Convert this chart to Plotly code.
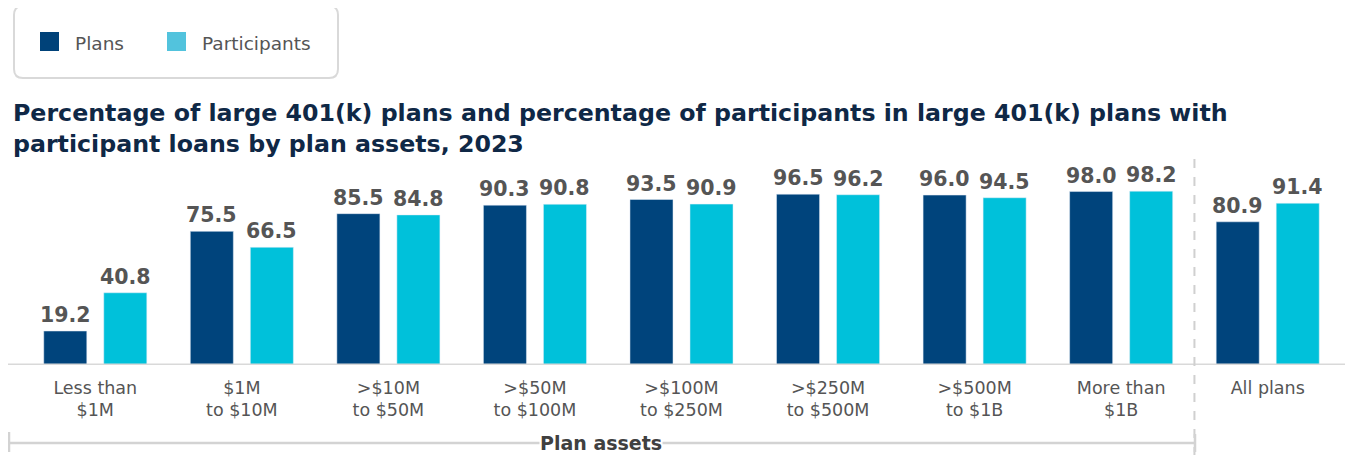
import plotly.graph_objects as go

categories = ["Less than<br>$1M", "$1M<br>to $10M", ">$10M<br>to $50M", ">$50M<br>to $100M",
              ">$100M<br>to $250M", ">$250M<br>to $500M", ">$500M<br>to $1B", "More than<br>$1B", "All plans"]
plans = [19.2, 75.5, 85.5, 90.3, 93.5, 96.5, 96.0, 98.0, 80.9]
participants = [40.8, 66.5, 84.8, 90.8, 90.9, 96.2, 94.5, 98.2, 91.4]

# page has an 8px body margin: the figure starts at page (8, 8)
OFF = 8
W, H = 1353 - OFF, 455 - OFF
# plot area in page pixels: x 22..1341, y 188..365
PL, PR, PT, PB = 22, 1341, 188, 365
L, T = PL - OFF, PT - OFF
R, B = (1353 - PR), (455 - PB)
PW, PH = PR - PL, PB - PT

def px(x):
    return (x - PL) / PW

def py(y):
    return (PB - y) / PH

FONT = "DejaVu Sans"
NAVY = "#00447c"
CYAN = "#00c1da"
GRAY = "#555555"
BARGAP = 0.181
BARGROUPGAP = 0.283
HALF_SLOT = (1 - BARGAP) / 4

fig = go.Figure()
xs = list(range(len(categories)))
fig.add_trace(go.Bar(x=xs, y=plans, name="Plans", marker_color=NAVY))
fig.add_trace(go.Bar(x=xs, y=participants, name="Participants", marker_color=CYAN))

shapes = []
# baseline
shapes.append(dict(type="line", xref="paper", yref="y", x0=px(8), x1=px(1353), y0=0, y1=0,
                   line=dict(color="#d9d9d9", width=3), layer="above"))
# dashed separator
shapes.append(dict(type="line", xref="x", yref="paper", x0=7.5, x1=7.5, y0=py(456), y1=py(159),
                   line=dict(color="#d0d0d0", width=2, dash="dash")))
# bracket
shapes.append(dict(type="line", xref="paper", yref="paper", x0=px(9), x1=px(1195), y0=py(443), y1=py(443),
                   line=dict(color="#d3d3d3", width=2.5)))
shapes.append(dict(type="line", xref="paper", yref="paper", x0=px(9), x1=px(9), y0=py(432), y1=py(452),
                   line=dict(color="#d3d3d3", width=2.5)))
shapes.append(dict(type="line", xref="paper", yref="paper", x0=px(1195), x1=px(1195), y0=py(434), y1=py(452),
                   line=dict(color="#d3d3d3", width=2.5)))
# legend box (rounded)
x0, y0, x1, y1, r = 14, 6, 338, 78, 9
path = (f"M {px(x0+r)},{py(y0)} L {px(x1-r)},{py(y0)} Q {px(x1)},{py(y0)} {px(x1)},{py(y0+r)} "
        f"L {px(x1)},{py(y1-r)} Q {px(x1)},{py(y1)} {px(x1-r)},{py(y1)} "
        f"L {px(x0+r)},{py(y1)} Q {px(x0)},{py(y1)} {px(x0)},{py(y1-r)} "
        f"L {px(x0)},{py(y0+r)} Q {px(x0)},{py(y0)} {px(x0+r)},{py(y0)} Z")
shapes.append(dict(type="path", xref="paper", yref="paper", path=path,
                   line=dict(color="#d9d9d9", width=2), fillcolor="rgba(0,0,0,0)"))
shapes.append(dict(type="rect", xref="paper", yref="paper", x0=px(40), x1=px(59), y0=py(51), y1=py(32),
                   line=dict(width=0), fillcolor="#004279"))
shapes.append(dict(type="rect", xref="paper", yref="paper", x0=px(167), x1=px(186), y0=py(51), y1=py(32),
                   line=dict(width=0), fillcolor="#52c3dd"))

annotations = [
    dict(text="Plans", xref="paper", yref="paper", x=px(73), y=py(43), xanchor="left", yanchor="middle",
         showarrow=False, font=dict(family=FONT, size=18.5, color=GRAY)),
    dict(text="Participants", xref="paper", yref="paper", x=px(200), y=py(43), xanchor="left", yanchor="middle",
         showarrow=False, font=dict(family=FONT, size=18.5, color=GRAY)),
    dict(text="Percentage of large 401(k) plans and percentage of participants in large 401(k) plans with<br>"
              "participant loans by plan assets, 2023",
         xref="paper", yref="paper", x=px(11), y=py(97), xanchor="left", yanchor="top", align="left",
         showarrow=False, font=dict(family=FONT, size=23.7, color="#0f2846", weight="bold")),
    dict(text="Plan assets", xref="paper", yref="paper", x=px(601), y=py(443), xanchor="center", yanchor="middle",
         showarrow=False, bgcolor="white", borderpad=0,
         font=dict(family=FONT, size=19, color="#404040", weight="bold")),
]

# value labels above bars
for i, (p, q) in enumerate(zip(plans, participants)):
    for xv, v in ((i - HALF_SLOT, p), (i + HALF_SLOT, q)):
        annotations.append(dict(text=f"{v:.1f}", xref="x", yref="y", x=xv, y=v,
                                xanchor="center", yanchor="bottom", yshift=2, showarrow=False,
                                font=dict(family=FONT, size=20.5, color=GRAY, weight="bold")))

fig.update_layout(
    width=W, height=H,
    margin=dict(l=L, r=R, t=T, b=B),
    paper_bgcolor="white", plot_bgcolor="white",
    barmode="group", bargap=BARGAP, bargroupgap=BARGROUPGAP,
    showlegend=False,
    xaxis=dict(tickvals=xs, ticktext=categories, range=[-0.5, len(categories) - 0.5],
               showgrid=False, zeroline=False, showline=False, ticks="",
               tickfont=dict(family=FONT, size=17.5, color=GRAY), ticklabelstandoff=10),
    yaxis=dict(range=[0, 100], visible=False, showgrid=False, zeroline=False),
    shapes=shapes, annotations=annotations,
)

fig.write_html("out.html")
